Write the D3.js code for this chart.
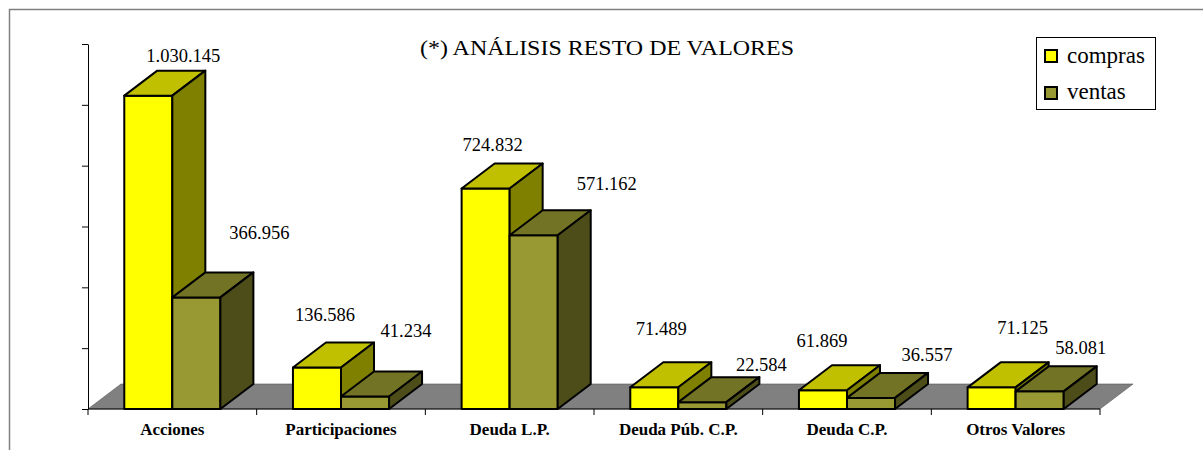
<!DOCTYPE html>
<meta charset="utf-8">
<script src="https://cdn.jsdelivr.net/npm/d3@7"></script>
<style>
body { margin: 0; background: #fff; }
text { font-family: "Liberation Serif", "Times New Roman", serif; fill: #000; }
.val { font-size: 18.5px; }
.cat { font-size: 17px; font-weight: bold; }
.title { font-size: 22px; }
.leg { font-size: 23px; }
</style>
<body>
<script>

var categories = ["Acciones", "Participaciones", "Deuda L.P.", "Deuda Púb. C.P.", "Deuda C.P.", "Otros Valores"];
var compras = [1030145, 136586, 724832, 71489, 61869, 71125];
var ventas = [366956, 41234, 571162, 22584, 36557, 58081];
var seriesNames = ["compras", "ventas"];
var yTicks = [0, 200000, 400000, 600000, 800000, 1000000, 1200000];

// excel put the 3d labels in odd spots, nudge them from the top of each box
var nudgeCompras = [[35, -9], [8, -21], [7, -13], [7, -27], [-1, -18], [31, -28]];
var nudgeVentas = [[63, -33], [41, -34], [73, -20], [59, -6], [56, -12], [41, -12]];

var width = 1203, height = 450;
var plotLeft = 88, plotRight = 1100, plotBase = 409, plotTop = 44;
var ddx = 33, ddy = -25;   // depth of the 3d boxes

var fmt = function(v) { return d3.format(",")(v).replace(/,/g, "."); };

var svg = d3.select("body").append("svg")
    .attr("width", width)
    .attr("height", height);

// outer frame
svg.append("path")
    .attr("d", "M9.5,460 V9.5 H1215")
    .attr("fill", "none")
    .attr("stroke", "#808080")
    .attr("stroke-width", 1.5);

var x = d3.scaleBand().domain(categories).range([plotLeft, plotRight]);
var y = d3.scaleLinear().domain([0, 1200000]).range([plotBase, plotTop]);

var colors = {
  compras: { front: "#ffff00", top: "#c0c000", side: "#808000" },
  ventas: { front: "#999933", top: "#737326", side: "#4d4d1a" }
};

// floor
svg.append("polygon")
    .attr("points", [[plotLeft, plotBase], [plotLeft + ddx, plotBase + ddy], [plotRight + ddx, plotBase + ddy], [plotRight, plotBase]].join(" "))
    .attr("fill", "#808080")
    .attr("stroke", "#555")
    .attr("stroke-width", 0.6);

// y axis, no labels
var yAxis = d3.axisLeft(y).tickValues(yTicks).tickSize(6).tickSizeOuter(0).tickFormat("");
var gy = svg.append("g").attr("transform", "translate(" + plotLeft + ",0)").call(yAxis);
gy.select(".domain").attr("stroke", "#000");
gy.selectAll(".tick line").attr("stroke", "#000");

// x axis
var gx = svg.append("g").attr("transform", "translate(0," + plotBase + ")");
gx.append("line").attr("x1", plotLeft).attr("x2", plotRight).attr("stroke", "#000");
gx.selectAll(".tk")
    .data(d3.range(categories.length + 1))
    .enter().append("line")
    .attr("x1", function(i) { return plotLeft + i * x.bandwidth(); })
    .attr("x2", function(i) { return plotLeft + i * x.bandwidth(); })
    .attr("y1", 0).attr("y2", 6)
    .attr("stroke", "#000");
gx.selectAll(".cat")
    .data(categories)
    .enter().append("text")
    .attr("class", "cat")
    .attr("x", function(d) { return x(d) + x.bandwidth() / 2; })
    .attr("y", 26)
    .attr("text-anchor", "middle")
    .text(function(d) { return d; });

var inner = d3.scaleBand().domain(seriesNames).range([0, x.bandwidth()]).paddingOuter(0.755);
var bw = inner.bandwidth();

function box(g, x0, v, c) {
  var yt = y(v);
  var x1 = x0 + bw;
  g.append("polygon")
      .attr("points", [[x0, plotBase], [x0, yt], [x1, yt], [x1, plotBase]].join(" "))
      .attr("fill", c.front);
  g.append("polygon")
      .attr("points", [[x0, yt], [x0 + ddx, yt + ddy], [x1 + ddx, yt + ddy], [x1, yt]].join(" "))
      .attr("fill", c.top);
  g.append("polygon")
      .attr("points", [[x1, yt], [x1 + ddx, yt + ddy], [x1 + ddx, plotBase + ddy], [x1, plotBase]].join(" "))
      .attr("fill", c.side);
  g.selectAll("polygon")
      .attr("stroke", "#000")
      .attr("stroke-width", 2)
      .attr("stroke-linejoin", "round");
}

var bars = svg.append("g");
categories.forEach(function(cat, i) {
  box(bars.append("g"), x(cat) + inner("compras"), compras[i], colors.compras);
  box(bars.append("g"), x(cat) + inner("ventas"), ventas[i], colors.ventas);
});

// value labels
var labels = svg.append("g");
categories.forEach(function(cat, i) {
  [["compras", compras[i], nudgeCompras[i]], ["ventas", ventas[i], nudgeVentas[i]]].forEach(function(s) {
    labels.append("text")
        .attr("class", "val")
        .attr("text-anchor", "middle")
        .attr("x", x(cat) + inner(s[0]) + bw / 2 + s[2][0])
        .attr("y", y(s[1]) + ddy + s[2][1])
        .text(fmt(s[1]));
  });
});

// title
svg.append("text")
    .attr("class", "title")
    .attr("x", 607)
    .attr("y", 55)
    .attr("text-anchor", "middle")
    .attr("textLength", 374)
    .attr("lengthAdjust", "spacingAndGlyphs")
    .text("(*) ANÁLISIS RESTO DE VALORES");

// legend
var leg = svg.append("g").attr("transform", "translate(1036,37)");
leg.append("rect")
    .attr("x", 0.5).attr("y", 0.5)
    .attr("width", 119).attr("height", 72)
    .attr("fill", "#fff")
    .attr("stroke", "#000");
seriesNames.forEach(function(s, i) {
  leg.append("rect")
      .attr("x", 9).attr("y", 13 + i * 37)
      .attr("width", 12).attr("height", 12)
      .attr("fill", colors[s].front)
      .attr("stroke", "#000")
      .attr("stroke-width", 2);
  leg.append("text")
      .attr("class", "leg")
      .attr("x", 31)
      .attr("y", 26 + i * 36)
      .text(s);
});

</script>
</body>
